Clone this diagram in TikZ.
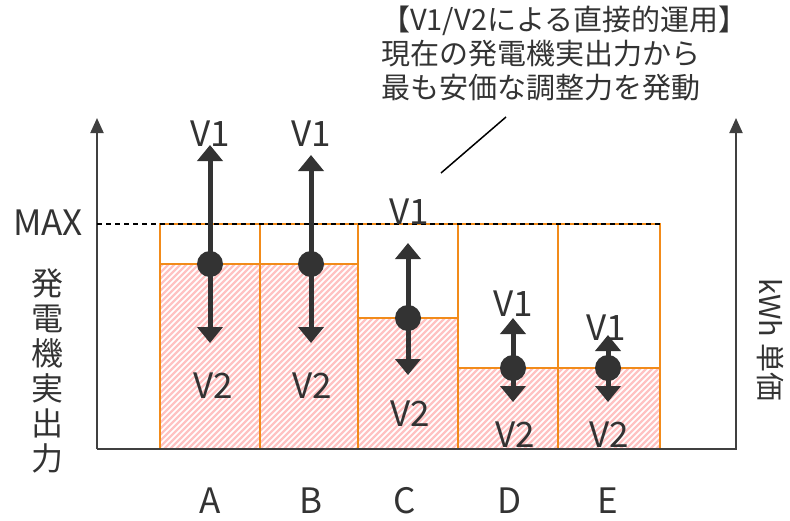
\documentclass[tikz,border=0pt]{standalone}
\usepackage{fontspec}
\setmainfont{Noto Sans CJK JP}
\usetikzlibrary{arrows.meta}
\definecolor{ink}{HTML}{333333}
\definecolor{axisgray}{HTML}{404040}
\definecolor{barline}{HTML}{F28B1A}
\definecolor{hatchpink}{HTML}{FFC2C2}
\tikzset{
 bar/.style={draw=barline,line width=2.6pt},
 move/.style={draw=ink,line width=5pt,-{Triangle[width=25pt,length=16pt]}},
 axis/.style={draw=axisgray,line width=2pt,-{Triangle[width=13pt,length=15pt]}},
 dot/.style={circle,fill=ink,inner sep=0pt,minimum size=26pt},
 lbl/.style={text=ink,font=\fontsize{35}{40}\selectfont,inner sep=0pt,anchor=base},
 jp/.style={text=ink,font=\fontsize{29}{34}\selectfont,inner sep=0pt},
}

\begin{document}
\begin{tikzpicture}[x=1pt,y=-1pt]
 \useasboundingbox (0,0) rectangle (790,520);
 % bars with hatched output part
 \foreach \n/\xa/\xb/\lev in {A/160/260/264,B/260/358/264,C/358/458/318,D/458/558/368,E/558/660/368}{
  \begin{scope}
   \clip (\xa,449) rectangle (\xb,\lev);
   \foreach \k in {-40,-34,...,660}
    \draw[hatchpink,line width=2.4pt] (\k,449) -- ++(200,-200);
  \end{scope}
  \draw[bar] (\xa,224) rectangle (\xb,449);
  \draw[bar] (\xa,\lev) -- (\xb,\lev);
 }
 % axes
 \coordinate (o) at (97,449);
 \coordinate (ytop) at (97,118);
 \coordinate (xend) at (736,449);
 \coordinate (ptop) at (736,118);
 \draw[axis] (o) -- (ytop);
 \draw[axis] (o) -- (xend) -- (ptop);
 \coordinate (maxl) at (97,224);
 \coordinate (maxr) at (660,224);
 \draw[dashed,line width=1.2pt,dash pattern=on 5pt off 4pt] (maxl) -- (maxr);
 \node[lbl] (max) at (48,235) {MAX};
 \node[jp,align=center,font=\fontsize{32}{35}\selectfont] (ylab) at (47,371) {発\\電\\機\\実\\出\\力};
 \node[jp,rotate=-90] (plab) at (771,340) {kWh 単価};
 % V1 / V2 movements
 \foreach \n/\x/\y/\up/\dn in {A/210/264/145/343,B/311/264/155/343,C/408/318/243/375,D/513/368/318/402,E/608/368/335/402}{
  \coordinate (c\n) at (\x,\y);
  \coordinate (up\n) at (\x,\up);
  \coordinate (dn\n) at (\x,\dn);
  \draw[move] (c\n) -- (up\n);
  \draw[move] (c\n) -- (dn\n);
  \node[dot] (d\n) at (c\n) {};
 }
 \foreach \n/\x/\ya/\xb/\yb in {A/210/146/213/398,B/311/146/312/398,C/409/224/410/426,D/513/316/515/447,E/606/340/609/447}{
  \node[lbl] (va\n) at (\x,\ya) {V1};
  \node[lbl] (vb\n) at (\xb,\yb) {V2};
 }
 \foreach \n/\x in {A/210,B/311,C/405,D/510,E/608}
  \node[lbl] (g\n) at (\x,513) {\n};
 % note
 \node[jp,align=left,anchor=north west] (note) at (381,6) {【V1/V2による直接的運用】\\現在の発電機実出力から\\最も安価な調整力を発動};
 \coordinate (callA) at (506,117);
 \coordinate (callB) at (441,173);
 \draw[line width=1.5pt] (callA) -- (callB);
\end{tikzpicture}
\end{document}
